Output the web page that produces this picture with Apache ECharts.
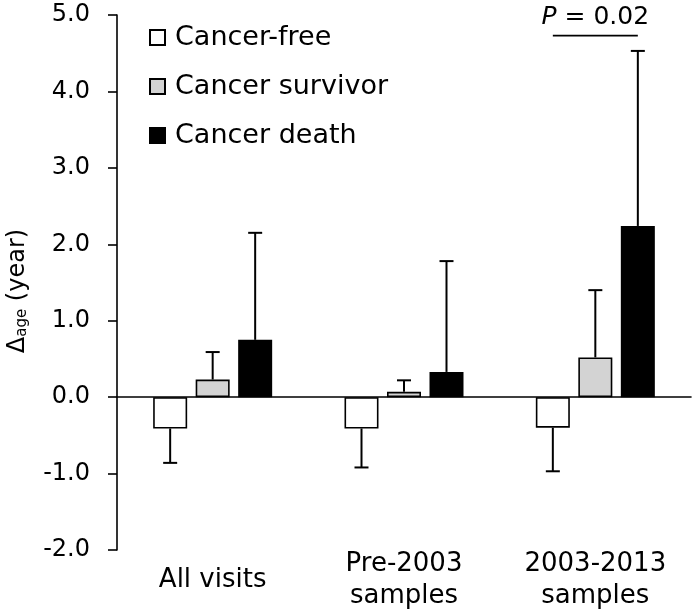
<!DOCTYPE html>
<html style="height: 100%">
  <head>
    <meta charset="UTF-8" />
    <title>Delta age by cancer status</title>
    <script src="https://cdn.jsdelivr.net/npm/echarts@6/dist/echarts.min.js"></script>
  </head>
  <body style="height: 100%; margin: 0; background: #fff">
    <div id="main" style="width: 694px; height: 613px"></div>
    <script>
      const chart = echarts.init(document.getElementById('main'))

      const categories = ['All visits', 'Pre-2003\nsamples', '2003-2013\nsamples']
      const groupNames = ['Cancer-free', 'Cancer survivor', 'Cancer death']
      // bar heights (mean) and the end of the one-sided error bar
      const freeMean = [-0.41, -0.41, -0.4]
      const freeErr = [-0.86, -0.92, -0.97]
      const survivorMean = [0.23, 0.07, 0.52]
      const survivorErr = [0.59, 0.22, 1.4]
      const deathMean = [0.75, 0.33, 2.24]
      const deathErr = [2.15, 1.78, 4.53]
      const yTicks = [-2, -1, 0, 1, 2, 3, 4, 5]
      // significance bracket over the 2003-2013 group
      const pText = 'P = 0.02'
      const pCategory = 2
      const pLevel = 4.73

      const means = [freeMean, survivorMean, deathMean]
      const errs = [freeErr, survivorErr, deathErr]
      const fills = ['#ffffff', '#d3d3d3', '#000000']

      const barW = 34
      const step = 42.5
      const font = 'DejaVu Sans'

      const barSeries = groupNames.map((name, i) => ({
        name,
        type: 'bar',
        data: means[i],
        barWidth: barW,
        barGap: '25%',
        itemStyle: { color: fills[i], borderColor: '#000', borderWidth: 1.6 },
        emphasis: { disabled: true },
      }))

      const errSeries = groupNames.map((name, i) => ({
        type: 'custom',
        name: name + ' err',
        z: 3,
        data: categories.map((c, k) => [k, means[i][k], errs[i][k]]),
        renderItem: (params, api) => {
          const k = api.value(0)
          const a = api.coord([k, api.value(1)])
          const b = api.coord([k, api.value(2)])
          const x = a[0] + (i - 1) * step
          const st = { stroke: '#000', lineWidth: 2 }
          return {
            type: 'group',
            children: [
              { type: 'line', shape: { x1: x, y1: a[1], x2: x, y2: b[1] }, style: st },
              { type: 'line', shape: { x1: x - 7, y1: b[1], x2: x + 7, y2: b[1] }, style: st },
            ],
          }
        },
      }))

      const pSeries = {
        type: 'custom',
        name: 'p',
        z: 4,
        data: [[pCategory, pLevel]],
        renderItem: (params, api) => {
          const c = api.coord([api.value(0), api.value(1)])
          const x1 = c[0] - step
          const x2 = c[0] + step
          return {
            type: 'group',
            children: [
              { type: 'line', shape: { x1, y1: c[1], x2, y2: c[1] }, style: { stroke: '#000', lineWidth: 1.6 } },
              {
                type: 'text',
                x: c[0],
                y: c[1] - 6,
                style: {
                  text: '{i|' + pText.slice(0, 1) + '}{n|' + pText.slice(1) + '}',
                  align: 'center',
                  verticalAlign: 'bottom',
                  rich: {
                    i: { fontFamily: font, fontSize: 25, fontStyle: 'italic', fill: '#000' },
                    n: { fontFamily: font, fontSize: 25, fill: '#000' },
                  },
                },
              },
            ],
          }
        },
      }

      const option = {
        animation: false,
        textStyle: { fontFamily: font, color: '#000' },
        grid: { left: 117, right: 3, top: 15, bottom: 63, containLabel: false, outerBoundsMode: 'none' },
        legend: {
          data: groupNames,
          orient: 'vertical',
          left: 144,
          top: 19,
          itemWidth: 15,
          itemHeight: 15,
          itemGap: 22,
          icon: 'rect',
          textStyle: { fontFamily: font, fontSize: 27, color: '#000', padding: [0, 0, 0, 5] },
        },
        xAxis: {
          type: 'category',
          data: categories,
          axisLine: { onZero: true, lineStyle: { color: '#000', width: 1.6 } },
          axisTick: { show: false },
          axisLabel: {
            interval: 0,
            margin: 30,
            verticalAlign: 'middle',
            fontSize: 26,
            lineHeight: 32,
            color: '#000',
            fontFamily: font,
          },
        },
        yAxis: {
          type: 'value',
          min: yTicks[0],
          max: yTicks[yTicks.length - 1],
          interval: 1,
          splitLine: { show: false },
          axisLine: { show: true, lineStyle: { color: '#000', width: 1.6 } },
          axisTick: { show: true, length: 9, lineStyle: { color: '#000', width: 1.6 } },
          axisLabel: {
            margin: 27,
            fontSize: 24,
            color: '#000',
            fontFamily: font,
            formatter: (v) => v.toFixed(1),
          },
          name: '{a|Δ}{b|age}{a| (year)}',
          nameLocation: 'middle',
          nameRotate: 90,
          nameGap: 86,
          nameTextStyle: {
            padding: [0, 17, 0, 0],
            rich: {
              a: { fontFamily: font, fontSize: 24, lineHeight: 24, padding: [0, 0, 3, 0], verticalAlign: 'top', color: '#000' },
              b: { fontFamily: font, fontSize: 15, lineHeight: 15, verticalAlign: 'bottom', color: '#000' },
            },
          },
        },
        series: [...barSeries, ...errSeries, pSeries],
      }

      chart.setOption(option)
    </script>
  </body>
</html>
